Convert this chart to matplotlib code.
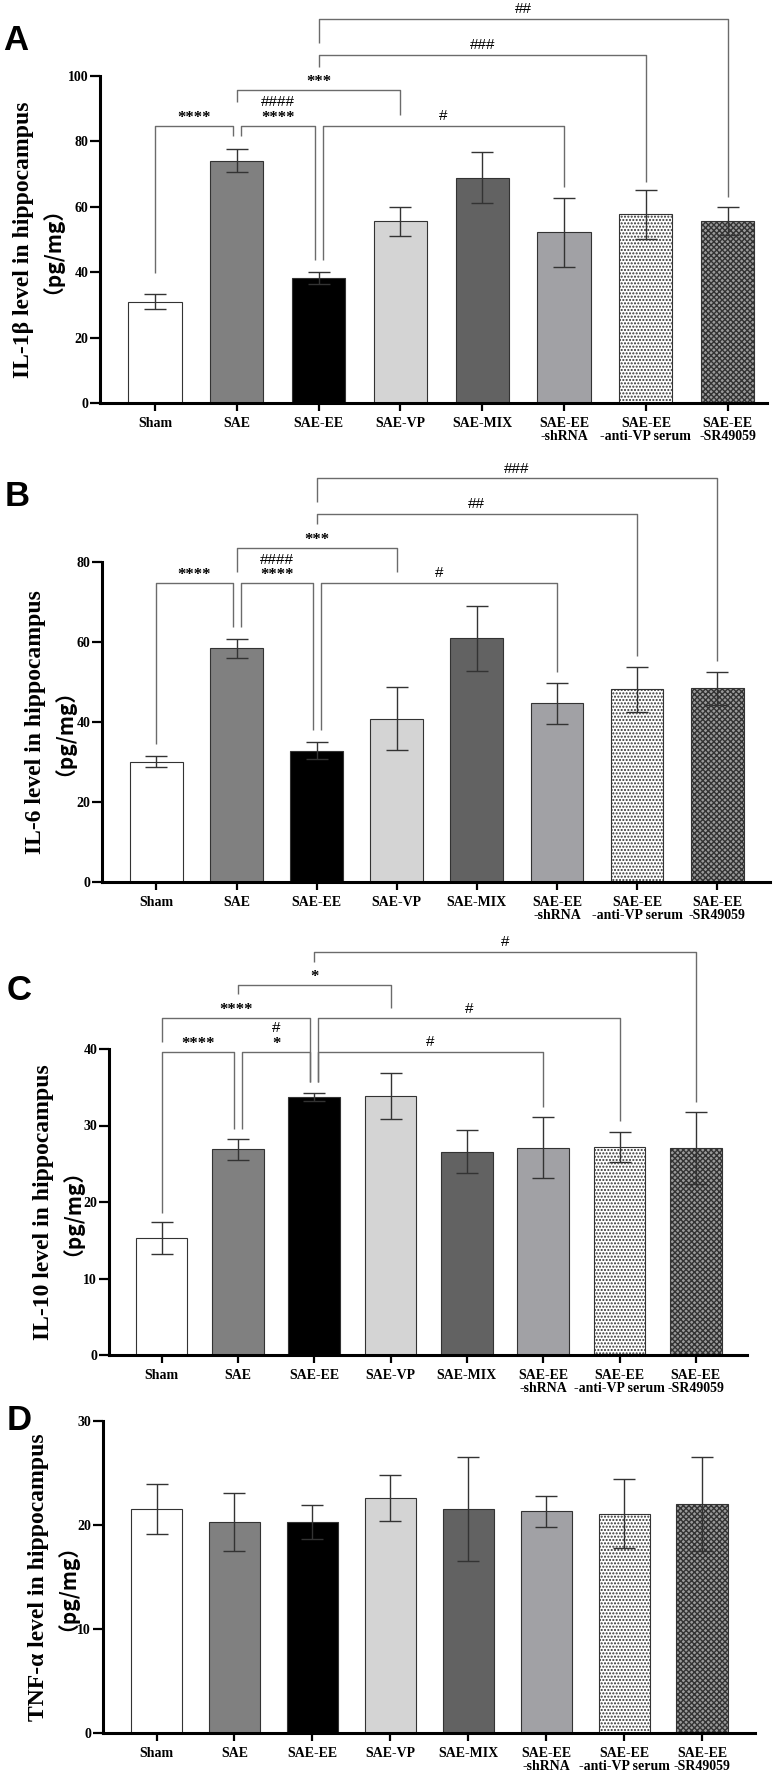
import numpy as np
import matplotlib.pyplot as plt

groups = ["Sham", "SAE", "SAE-EE", "SAE-VP", "SAE-MIX",
          "SAE-EE\n-shRNA", "SAE-EE\n-anti-VP serum", "SAE-EE\n-SR49059"]

il1b_mean = [31.0, 74.1, 38.3, 55.6, 68.9, 52.2, 57.7, 55.6]
il1b_sd = [2.3, 3.6, 1.8, 4.4, 7.8, 10.5, 7.4, 4.2]

il6_mean = [30.1, 58.4, 32.8, 40.8, 60.9, 44.7, 48.2, 48.4]
il6_sd = [1.4, 2.4, 2.1, 7.9, 8.1, 5.1, 5.6, 4.1]

il10_mean = [15.3, 26.9, 33.7, 33.9, 26.6, 27.1, 27.2, 27.1]
il10_sd = [2.1, 1.4, 0.5, 3.0, 2.8, 4.0, 2.0, 4.7]

tnf_mean = [21.5, 20.3, 20.3, 22.6, 21.5, 21.3, 21.1, 22.0]
tnf_sd = [2.4, 2.8, 1.6, 2.2, 5.0, 1.5, 3.3, 4.5]

# brackets: (left bar, right bar, height, left leg end, right leg end, label)
il1b_sig = [
    (0, 1, 84.7, 39.8, 81.5, "****"),
    (1, 2, 84.7, 81.5, 43.8, "####\n****"),
    (1, 3, 95.7, 92.0, 88.1, "***"),
    (2, 5, 84.7, 43.8, 66.2, "#"),
    (2, 6, 106.4, 102.8, 67.7, "###"),
    (2, 7, 117.4, 110.0, 63.1, "##"),
]
il6_sig = [
    (0, 1, 74.7, 34.5, 63.8, "****"),
    (1, 2, 74.7, 63.8, 38.0, "####\n****"),
    (1, 3, 83.5, 77.6, 77.6, "***"),
    (2, 5, 74.7, 38.0, 52.6, "#"),
    (2, 6, 92.0, 89.5, 56.5, "##"),
    (2, 7, 100.9, 95.1, 55.3, "###"),
]
il10_sig = [
    (0, 1, 39.6, 18.5, 29.6, "****"),
    (1, 2, 39.6, 29.6, 35.7, "#\n*"),
    (0, 2, 44.0, 40.9, 35.7, "****"),
    (1, 3, 48.4, 47.2, 45.4, "*"),
    (2, 5, 39.6, 35.7, 32.4, "#"),
    (2, 6, 44.0, 35.7, 30.6, "#"),
    (2, 7, 52.7, 51.4, 33.1, "#"),
]

bar_colors = ['white', '#808080', '#000000', '#d4d4d4', '#626262', '#a1a1a5', 'white', '#9a9a9a']
bar_hatches = [None, None, None, None, None, None, '.....', 'xxxxxx']

plt.rcParams['hatch.linewidth'] = 1.0

W, H = 776, 1772
fig = plt.figure(figsize=(W / 100, H / 100), dpi=100)

SERIF = 'Liberation Serif'
CJK = 'Noto Sans CJK SC'
unit_label = '（pg/mg）'

# letter, ylabel, means, sds, brackets, ymax, ystep, (left, right, top, bottom px),
# xlim, bar width, x of the two label lines, letter centre
panels = [
    ('A', 'IL-1β level in hippocampus', il1b_mean, il1b_sd, il1b_sig, 100, 20,
     (100, 767, 76, 403), (-0.672, 7.48), 0.65, (29, 48), (16, 41)),
    ('B', 'IL-6 level in hippocampus', il6_mean, il6_sd, il6_sig, 80, 20,
     (102, 770, 562, 882), (-0.68, 7.66), 0.66, (41, 60), (17, 497)),
    ('C', 'IL-10 level in hippocampus', il10_mean, il10_sd, il10_sig, 40, 10,
     (109, 747, 1049, 1355), (-0.688, 7.67), 0.68, (49, 68), (19, 990)),
    ('D', 'TNF-α level in hippocampus', tnf_mean, tnf_sd, [], 30, 10,
     (103, 755, 1421, 1733), (-0.687, 7.68), 0.655, (44, 63), (19, 1420)),
]


def draw_brackets(ax, sigs):
    for k, (i, j, h, ei, ej, lab) in enumerate(sigs):
        xi, xj = float(i), float(j)
        # nudge legs apart where two brackets at the same height meet on one bar
        for m, other in enumerate(sigs):
            if m == k or other[2] != h:
                continue
            if other[1] == i:
                xi += 0.05
            if other[0] == j:
                xj -= 0.05
        ax.plot([xi, xi, xj, xj], [ei, h, h, ej], color='#6b6b6b', lw=1.0,
                clip_on=False, solid_capstyle='butt', zorder=4)
        xc = (xi + xj) / 2
        parts = lab.split('\n')[::-1]
        for n, p in enumerate(parts):
            if '*' in p:
                kw = dict(family=SERIF, fontweight='bold', fontsize=12)
                off = 0 + 11 * n
            else:
                kw = dict(family='Liberation Sans', fontsize=11)
                off = 2 + 10 * n
            ax.annotate(p, xy=(xc, h), xytext=(0, off), textcoords='offset points',
                        ha='center', va='bottom', annotation_clip=False, **kw)


for (letter, ylab, mean, sd, sigs, ymax, ystep, box, xlim, bw, lab_x, let_c) in panels:
    l, r, t, b = box
    ax = fig.add_axes([l / W, 1 - b / H, (r - l) / W, (b - t) / H])
    x = np.arange(len(groups))
    ax.bar(x, mean, width=bw, color=bar_colors, edgecolor='#333333', linewidth=0.8,
           hatch=bar_hatches, zorder=2)
    ax.errorbar(x, mean, yerr=sd, fmt='none', ecolor='#333333', elinewidth=1.0,
                capsize=8, capthick=1.0, zorder=3)
    ax.set_xlim(*xlim)
    ax.set_ylim(0, ymax)
    ax.set_yticks(np.arange(0, ymax + 1, ystep))
    ax.set_xticks(x)
    ax.set_xticklabels(groups, fontsize=10, fontweight='bold', family=SERIF,
                       linespacing=1.0)
    for tl in ax.get_yticklabels():
        tl.set_fontsize(10)
        tl.set_fontweight('bold')
        tl.set_family(SERIF)
    ax.tick_params(axis='x', direction='out', length=6, width=1.6, pad=4)
    ax.tick_params(axis='y', direction='out', length=7, width=1.6, pad=1.5)
    for s in ['top', 'right']:
        ax.spines[s].set_visible(False)
    for s in ['left', 'bottom']:
        ax.spines[s].set_linewidth(2.2)
    draw_brackets(ax, sigs)

    yc = 1 - (t + b) / 2 / H
    fig.text(lab_x[0] / W, yc, ylab, rotation=90, rotation_mode='anchor',
             ha='center', va='baseline', fontsize=17, fontweight='bold', family=SERIF)
    fig.text(lab_x[1] / W, yc, unit_label, rotation=90, rotation_mode='anchor',
             ha='center', va='baseline', fontsize=15, fontweight='bold', family=CJK)
    fig.text(let_c[0] / W, 1 - let_c[1] / H, letter, ha='center', va='center',
             fontsize=25, fontweight='bold', family='Liberation Sans')

fig.savefig('out.png', dpi=100)
